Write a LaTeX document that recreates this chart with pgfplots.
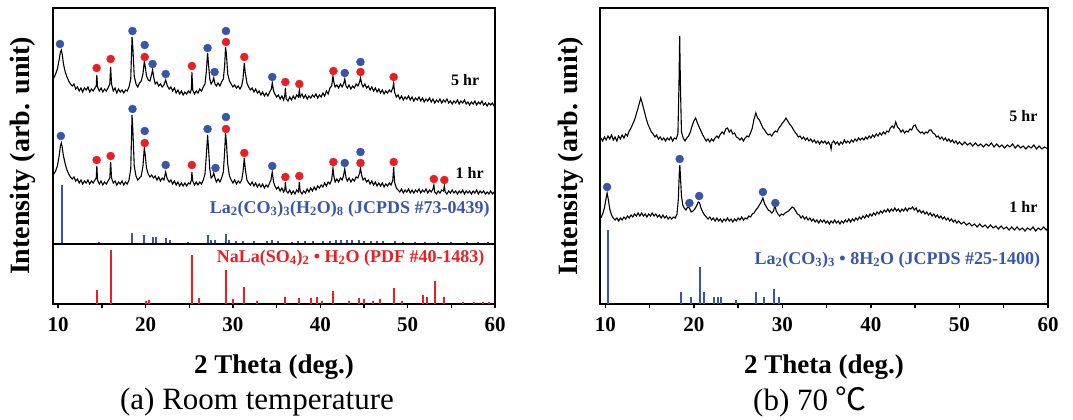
\documentclass[border=0pt]{standalone}
\usepackage{pgfplots}
\pgfplotsset{compat=1.18}
\usepackage{fontspec}
\setmainfont{Liberation Serif}
\newfontfamily\cjk{Noto Sans CJK KR}
\definecolor{refblue}{RGB}{55,85,170}
\definecolor{refred}{RGB}{235,30,35}

\pgfplotsset{
  xrd/.style={
    scale only axis, anchor=south west,
    xmin=9.4, xmax=60, ymin=0,
    axis line style={line width=2pt},
    ytick=\empty,
    tick align=outside, xtick pos=lower,
    xtick={10,20,...,60}, minor xtick={15,25,...,55},
    major tick length=4pt, minor tick length=4pt,
    every tick/.style={black, line width=1.5pt},
    /pgf/number format/assume math mode=true,
    xticklabel style={font=\fontsize{21}{24}\selectfont\bfseries, yshift=-6pt},
    label style={font=\fontsize{28}{32}\selectfont\bfseries},
  },
  curve/.style={black, line width=1.1pt},
  bdot/.style={only marks, mark=*, mark size=4pt, refblue},
  rdot/.style={only marks, mark=*, mark size=4pt, refred},
}

\begin{document}
\begin{tikzpicture}
\path[use as bounding box] (0,0) rectangle (1073pt,420pt);

% (a) upper part: patterns + La2(CO3)3(H2O)8 reference
\begin{axis}[xrd, at={(53pt,176pt)}, width=442pt, height=236pt, ymax=236,
  xtick=\empty, minor xtick=\empty,
  ylabel={Intensity (arb. unit)},
  ylabel style={at={(axis description cs:-0.068,0.373)}, anchor=center}]
\addplot[curve] coordinates {
(9.5,166) (9.7,170) (9.9,175) (10.1,184) (10.25,192) (10.35,194) (10.45,190) (10.6,180) (10.8,172) (11.0,167) (11.2,163) (11.4,160) (11.6,158) (11.8,160) (12.0,155) (12.2,157) (12.4,153) (12.6,156) (12.8,152) (13.0,156) (13.2,154) (13.4,157) (13.6,152) (13.8,155) (14.0,153) (14.2,156) (14.35,158) (14.42,169) (14.5,157) (14.7,153) (14.9,156) (15.1,152) (15.3,155) (15.5,153) (15.7,156) (15.9,160) (16.0,177) (16.1,160) (16.3,153) (16.5,156) (16.7,151) (16.9,155) (17.1,152) (17.3,154) (17.5,151) (17.7,154) (17.9,153) (18.1,157) (18.3,165) (18.45,207) (18.55,195) (18.7,168) (18.9,160) (19.1,157) (19.3,161) (19.5,163) (19.7,170) (19.85,182) (19.95,178) (20.1,168) (20.3,164) (20.5,163) (20.7,170) (20.8,174) (20.95,166) (21.1,160) (21.3,162) (21.5,158) (21.7,160) (21.9,157) (22.1,159) (22.3,164) (22.5,158) (22.7,155) (22.9,157) (23.1,153) (23.3,156) (23.5,151) (23.7,154) (23.9,150) (24.1,153) (24.3,149) (24.5,152) (24.7,150) (24.9,153) (25.1,151) (25.25,155) (25.3,172) (25.4,154) (25.6,150) (25.8,153) (26.0,151) (26.2,155) (26.4,153) (26.6,157) (26.8,160) (26.95,172) (27.1,191) (27.2,180) (27.35,165) (27.5,160) (27.7,163) (27.8,166) (27.95,160) (28.1,158) (28.3,161) (28.5,158) (28.7,162) (28.9,165) (29.05,178) (29.15,197) (29.25,190) (29.4,170) (29.6,163) (29.8,160) (30.0,157) (30.2,159) (30.4,156) (30.6,158) (30.8,155) (31.0,158) (31.15,165) (31.3,181) (31.4,172) (31.6,161) (31.8,157) (32.0,154) (32.2,156) (32.4,152) (32.6,155) (32.8,151) (33.0,153) (33.2,149) (33.4,152) (33.6,148) (33.8,151) (34.0,148) (34.2,152) (34.4,155) (34.5,161) (34.65,153) (34.8,150) (35.0,147) (35.2,149) (35.4,145) (35.6,148) (35.8,144) (35.95,149) (36.0,156) (36.1,145) (36.3,143) (36.5,147) (36.7,144) (36.9,148) (37.1,145) (37.3,149) (37.5,147) (37.6,154) (37.7,147) (37.9,150) (38.1,146) (38.3,149) (38.5,145) (38.7,148) (38.9,146) (39.1,149) (39.3,147) (39.5,150) (39.7,146) (39.9,149) (40.1,147) (40.3,151) (40.5,148) (40.7,153) (40.9,150) (41.1,156) (41.3,158) (41.45,168) (41.55,162) (41.7,157) (41.9,159) (42.1,156) (42.3,160) (42.5,157) (42.7,161) (42.8,165) (42.95,158) (43.1,156) (43.3,159) (43.5,155) (43.7,158) (43.9,156) (44.1,160) (44.3,158) (44.5,162) (44.6,166) (44.75,160) (44.9,157) (45.1,160) (45.3,156) (45.5,158) (45.7,154) (45.9,157) (46.1,153) (46.3,156) (46.5,152) (46.7,155) (46.9,151) (47.1,154) (47.3,150) (47.5,153) (47.7,151) (47.9,154) (48.1,152) (48.3,156) (48.4,161) (48.5,152) (48.7,147) (48.9,149) (49.1,145) (49.3,148) (49.5,144) (49.7,147) (49.9,145) (50.1,148) (50.3,144) (50.5,147) (50.7,143) (50.9,146) (51.1,144) (51.3,147) (51.5,143) (51.7,146) (51.9,142) (52.1,145) (52.3,143) (52.5,146) (52.7,142) (52.9,145) (53.1,141) (53.3,144) (53.5,142) (53.7,145) (53.9,141) (54.1,144) (54.3,142) (54.5,145) (54.7,141) (54.9,143) (55.1,140) (55.3,143) (55.5,141) (55.7,144) (55.9,140) (56.1,143) (56.3,141) (56.5,144) (56.7,140) (56.9,142) (57.1,139) (57.3,142) (57.5,140) (57.7,143) (57.9,139) (58.1,142) (58.3,140) (58.5,143) (58.7,139) (58.9,141) (59.1,138) (59.3,141) (59.5,139) (59.7,141) (59.9,138) (60.0,140)
};
\addplot[curve] coordinates {
(9.5,70) (9.7,73) (9.9,78) (10.1,88) (10.25,98) (10.35,101) (10.45,97) (10.6,88) (10.8,80) (11.0,74) (11.2,70) (11.4,67) (11.6,65) (11.8,67) (12.0,63) (12.2,65) (12.4,61) (12.6,64) (12.8,60) (13.0,63) (13.2,61) (13.4,64) (13.6,60) (13.8,63) (14.0,61) (14.2,64) (14.35,66) (14.42,78) (14.5,64) (14.7,60) (14.9,63) (15.1,59) (15.3,62) (15.5,60) (15.7,63) (15.9,66) (16.0,82) (16.1,66) (16.3,61) (16.5,63) (16.7,59) (16.9,62) (17.1,60) (17.3,63) (17.5,59) (17.7,62) (17.9,60) (18.1,64) (18.3,75) (18.45,129) (18.55,112) (18.7,78) (18.9,68) (19.1,64) (19.3,66) (19.5,68) (19.7,78) (19.85,96) (19.95,90) (20.1,76) (20.3,70) (20.5,67) (20.7,69) (20.9,66) (21.1,68) (21.3,64) (21.5,67) (21.7,63) (21.9,66) (22.1,64) (22.3,72) (22.45,66) (22.7,62) (22.9,64) (23.1,60) (23.3,63) (23.5,59) (23.7,62) (23.9,58) (24.1,61) (24.3,58) (24.5,61) (24.7,58) (24.9,61) (25.1,60) (25.25,64) (25.3,72) (25.4,63) (25.6,59) (25.8,62) (26.0,59) (26.2,62) (26.4,60) (26.6,64) (26.8,70) (26.95,88) (27.1,109) (27.2,96) (27.35,75) (27.5,66) (27.7,68) (27.8,71) (27.95,66) (28.1,62) (28.3,65) (28.5,62) (28.7,66) (28.9,72) (29.05,92) (29.15,111) (29.25,102) (29.4,80) (29.6,68) (29.8,64) (30.0,61) (30.2,64) (30.4,60) (30.6,63) (30.8,61) (31.0,64) (31.15,72) (31.3,86) (31.4,76) (31.6,64) (31.8,61) (32.0,59) (32.2,62) (32.4,58) (32.6,61) (32.8,57) (33.0,60) (33.2,57) (33.4,60) (33.6,56) (33.8,59) (34.0,57) (34.2,61) (34.35,64) (34.5,72) (34.65,62) (34.8,58) (35.0,55) (35.2,57) (35.4,53) (35.6,56) (35.8,52) (35.95,55) (36.0,62) (36.1,53) (36.3,51) (36.5,54) (36.7,50) (36.9,53) (37.1,50) (37.3,54) (37.5,52) (37.6,62) (37.7,53) (37.9,50) (38.1,53) (38.3,51) (38.5,55) (38.7,52) (38.9,56) (39.1,53) (39.3,57) (39.5,54) (39.7,58) (39.9,56) (40.1,59) (40.3,57) (40.5,61) (40.7,58) (40.9,62) (41.1,60) (41.3,64) (41.45,76) (41.55,68) (41.7,62) (41.9,65) (42.1,62) (42.3,66) (42.5,64) (42.65,68) (42.8,75) (42.95,66) (43.1,63) (43.3,66) (43.5,62) (43.7,65) (43.9,63) (44.1,67) (44.3,66) (44.5,71) (44.6,76) (44.75,68) (44.9,64) (45.1,66) (45.3,62) (45.5,64) (45.7,60) (45.9,63) (46.1,59) (46.3,62) (46.5,58) (46.7,61) (46.9,58) (47.1,61) (47.3,57) (47.5,60) (47.7,58) (47.9,61) (48.1,59) (48.3,64) (48.4,77) (48.5,62) (48.7,56) (48.9,54) (49.1,52) (49.3,55) (49.5,51) (49.7,54) (49.9,52) (50.1,55) (50.3,51) (50.5,54) (50.7,51) (50.9,54) (51.1,52) (51.3,55) (51.5,51) (51.7,54) (51.9,52) (52.1,55) (52.3,51) (52.5,54) (52.7,52) (52.9,55) (53.0,59) (53.1,52) (53.3,50) (53.5,53) (53.7,51) (53.9,54) (54.1,53) (54.2,58) (54.3,52) (54.5,50) (54.7,53) (54.9,51) (55.1,54) (55.3,51) (55.5,53) (55.7,50) (55.9,53) (56.1,51) (56.3,54) (56.5,50) (56.7,53) (56.9,51) (57.1,53) (57.3,50) (57.5,53) (57.7,51) (57.9,54) (58.1,50) (58.3,53) (58.5,51) (58.7,53) (58.9,50) (59.1,52) (59.3,50) (59.5,53) (59.7,50) (59.9,52) (60.0,51)
};
% reference lines JCPDS 73-0439
\addplot[ycomb, refblue, line width=2pt] coordinates {
(10.4,59) (14.7,2) (18.5,11) (19.8,9) (20.9,7) (21.2,7) (22.3,6) (22.8,4) (24.9,2) (27.1,9) (27.5,4) (27.9,4) (29.2,10) (29.6,4) (30.3,3) (31.2,3) (32.4,3) (33.9,3) (34.5,4) (35.2,3) (36.8,2) (37.5,3) (38.3,3) (39.2,3) (40.3,3) (41.1,3) (41.8,4) (42.4,4) (43.0,4) (43.6,4) (44.4,4) (45.0,3) (45.8,3) (46.5,3) (47.2,3) (48.5,3) (49.5,2) (50.8,2) (52.0,2) (53.5,2) (55.0,2) (56.8,2) (58.0,2) (59.2,2)
};
% phase markers, 5 hr
\addplot[bdot] coordinates {(10.2,200) (18.5,213) (19.9,199) (20.8,180) (22.3,170) (27.1,196) (27.9,172) (29.2,213) (34.5,167) (42.8,171) (44.6,182)};
\addplot[rdot] coordinates {(14.4,176) (16.0,185) (19.9,187) (25.3,178) (29.2,202) (31.3,187) (36.0,162) (37.6,160) (41.5,173) (44.6,172) (48.4,167)};
% phase markers, 1 hr
\addplot[bdot] coordinates {(10.3,108) (18.5,135) (19.9,113) (22.3,79) (27.1,115) (28.0,76) (29.2,127) (34.5,78) (42.8,81) (44.6,92)};
\addplot[rdot] coordinates {(14.4,84) (16.0,88) (19.9,101) (25.3,79) (29.2,115) (31.3,91) (36.0,67) (37.6,68) (41.5,82) (44.6,81) (48.4,82) (53.0,65) (54.2,64)};
\node[anchor=east, font=\fontsize{16}{18}\selectfont\bfseries] at (axis cs:58.6,164) {5 hr};
\node[anchor=east, font=\fontsize{16}{18}\selectfont\bfseries] at (axis cs:59.1,71) {1 hr};
\node[anchor=east, text=refblue, font=\fontsize{18}{20}\selectfont\bfseries] at (axis cs:59.8,35)
  {La\textsubscript{2}(CO\textsubscript{3})\textsubscript{3}(H\textsubscript{2}O)\textsubscript{8} (JCPDS \#73-0439)};
\end{axis}

% (a) lower part: NaLa(SO4)2 H2O reference
\begin{axis}[xrd, at={(53pt,116pt)}, width=442pt, height=60pt, ymax=60,
  xlabel={2 Theta (deg.)},
  xlabel style={at={(axis description cs:0.5,-1.05)}, anchor=center, font=\fontsize{27}{30}\selectfont\bfseries}]
\addplot[ycomb, refred, line width=2pt] coordinates {
(14.4,14) (16.0,54) (20.0,3) (20.4,4) (25.3,49) (26.1,6) (29.2,34) (30.0,5) (31.3,17) (32.7,3) (36.0,7) (37.6,6) (38.9,6) (39.6,7) (40.2,3) (41.5,13) (43.3,3) (44.4,6) (45.0,5) (46.0,3) (46.8,5) (48.4,16) (49.4,3) (51.8,9) (52.2,7) (53.1,23) (54.2,7) (56.3,2) (57.6,2) (58.6,2) (59.3,2)
};
\node[anchor=east, text=refred, font=\fontsize{18}{20}\selectfont\bfseries] at (axis cs:59.2,46)
  {NaLa(SO\textsubscript{4})\textsubscript{2} \textbullet{} H\textsubscript{2}O (PDF \#40-1483)};
\end{axis}

% (b) 70 C
\begin{axis}[xrd, at={(600pt,116pt)}, width=448pt, height=296pt, ymax=296,
  xlabel={2 Theta (deg.)},
  xlabel style={at={(axis description cs:0.5,-0.213)}, anchor=center, font=\fontsize{27}{30}\selectfont\bfseries},
  ylabel={Intensity (arb. unit)},
  ylabel style={at={(axis description cs:-0.066,0.5)}, anchor=center}]
\addplot[curve] coordinates {
(9.5,166) (9.7,163) (9.9,167) (10.1,164) (10.3,168) (10.5,165) (10.7,169) (10.9,164) (11.1,167) (11.3,163) (11.5,168) (11.7,165) (11.9,169) (12.1,166) (12.3,170) (12.5,168) (12.7,173) (12.9,176) (13.1,180) (13.3,184) (13.5,190) (13.7,196) (13.85,201) (14.0,206) (14.1,203) (14.25,198) (14.4,193) (14.6,186) (14.8,180) (15.0,176) (15.2,172) (15.4,170) (15.6,167) (15.8,169) (16.0,165) (16.2,167) (16.4,164) (16.6,166) (16.8,163) (17.0,166) (17.2,164) (17.4,167) (17.6,163) (17.8,166) (18.0,165) (18.2,170) (18.32,220) (18.4,268) (18.48,220) (18.6,172) (18.8,166) (19.0,163) (19.2,166) (19.4,168) (19.6,172) (19.8,178) (20.0,183) (20.2,186) (20.4,181) (20.6,177) (20.8,173) (21.0,169) (21.2,166) (21.4,163) (21.6,165) (21.8,162) (22.0,165) (22.2,163) (22.4,166) (22.6,168) (22.8,166) (23.0,170) (23.2,172) (23.4,170) (23.6,175) (23.8,176) (24.0,172) (24.2,174) (24.4,170) (24.6,171) (24.8,167) (25.0,166) (25.2,164) (25.4,166) (25.6,163) (25.8,166) (26.0,168) (26.2,167) (26.4,171) (26.6,176) (26.8,185) (27.0,191) (27.2,186) (27.4,184) (27.6,180) (27.8,176) (28.0,174) (28.2,171) (28.4,169) (28.6,170) (28.8,168) (29.0,171) (29.2,173) (29.4,172) (29.6,176) (29.8,178) (30.0,181) (30.2,183) (30.4,186) (30.6,183) (30.8,180) (31.0,178) (31.2,175) (31.4,172) (31.6,170) (31.8,167) (32.0,168) (32.2,165) (32.4,167) (32.6,164) (32.8,166) (33.0,163) (33.2,165) (33.4,162) (33.6,164) (33.8,161) (34.0,163) (34.2,160) (34.4,163) (34.6,161) (34.8,163) (35.0,160) (35.2,162) (35.4,159) (35.5,155) (35.6,161) (35.8,163) (36.0,160) (36.2,162) (36.4,159) (36.6,162) (36.8,160) (37.0,164) (37.2,161) (37.4,163) (37.6,161) (37.8,164) (38.0,162) (38.2,165) (38.4,163) (38.6,166) (38.8,164) (39.0,166) (39.2,164) (39.4,167) (39.6,165) (39.8,168) (40.0,166) (40.2,169) (40.4,167) (40.6,170) (40.8,168) (41.0,171) (41.2,169) (41.4,172) (41.6,170) (41.8,173) (42.0,172) (42.2,176) (42.4,178) (42.6,176) (42.8,182) (43.0,177) (43.2,175) (43.4,172) (43.6,174) (43.8,171) (44.0,173) (44.2,172) (44.4,175) (44.6,174) (44.8,178) (45.0,179) (45.2,175) (45.4,173) (45.6,171) (45.8,172) (46.0,170) (46.2,172) (46.4,171) (46.6,174) (46.8,174) (47.0,171) (47.2,170) (47.4,167) (47.6,168) (47.8,165) (48.0,167) (48.2,164) (48.4,166) (48.6,163) (48.8,165) (49.0,162) (49.2,164) (49.4,161) (49.6,163) (49.8,160) (50.0,162) (50.3,159) (50.6,162) (50.9,159) (51.2,161) (51.5,158) (51.8,161) (52.1,158) (52.4,160) (52.7,157) (53.0,160) (53.3,158) (53.6,161) (53.9,157) (54.2,160) (54.5,157) (54.8,159) (55.1,156) (55.4,159) (55.7,157) (56.0,160) (56.3,156) (56.6,159) (56.9,156) (57.2,158) (57.5,155) (57.8,158) (58.1,156) (58.4,159) (58.7,155) (59.0,158) (59.3,155) (59.6,157) (60.0,155)
};
\addplot[curve] coordinates {
(9.5,86) (9.7,90) (9.9,96) (10.05,104) (10.2,111) (10.35,104) (10.5,95) (10.7,89) (10.9,86) (11.1,84) (11.3,86) (11.5,83) (11.7,86) (11.9,84) (12.1,87) (12.3,85) (12.5,88) (12.7,86) (12.9,89) (13.1,87) (13.3,90) (13.5,88) (13.7,91) (13.9,88) (14.1,91) (14.3,88) (14.5,90) (14.7,87) (14.9,90) (15.1,88) (15.3,91) (15.5,88) (15.7,90) (15.9,87) (16.1,89) (16.3,86) (16.5,89) (16.7,86) (16.9,88) (17.1,85) (17.3,87) (17.5,85) (17.7,87) (17.9,86) (18.1,90) (18.25,105) (18.35,130) (18.42,139) (18.5,125) (18.6,108) (18.75,99) (18.9,96) (19.1,94) (19.3,97) (19.5,96) (19.7,92) (19.9,93) (20.1,95) (20.3,98) (20.5,102) (20.65,101) (20.8,96) (21.0,92) (21.2,89) (21.4,87) (21.6,85) (21.8,87) (22.0,84) (22.2,86) (22.4,83) (22.6,86) (22.8,83) (23.0,85) (23.2,82) (23.4,85) (23.6,83) (23.8,86) (24.0,83) (24.2,85) (24.4,82) (24.6,85) (24.8,83) (25.0,86) (25.2,84) (25.4,87) (25.6,84) (25.8,86) (26.0,85) (26.2,88) (26.4,87) (26.6,90) (26.8,91) (27.0,94) (27.2,96) (27.4,99) (27.6,102) (27.8,106) (28.0,100) (28.2,97) (28.4,94) (28.6,93) (28.8,91) (29.0,93) (29.15,99) (29.3,93) (29.5,90) (29.7,88) (29.9,90) (30.1,89) (30.3,91) (30.5,92) (30.7,93) (30.9,95) (31.1,97) (31.3,96) (31.5,93) (31.7,90) (31.9,89) (32.1,86) (32.3,88) (32.5,85) (32.7,87) (32.9,84) (33.1,86) (33.3,83) (33.5,85) (33.7,82) (33.9,84) (34.1,81) (34.3,84) (34.5,82) (34.7,84) (34.9,81) (35.1,83) (35.3,80) (35.5,83) (35.7,81) (35.9,84) (36.1,81) (36.3,83) (36.5,80) (36.7,83) (36.9,81) (37.1,84) (37.3,82) (37.5,85) (37.7,82) (37.9,85) (38.1,83) (38.3,86) (38.5,84) (38.7,87) (38.9,85) (39.1,88) (39.3,86) (39.5,89) (39.7,87) (39.9,90) (40.1,88) (40.3,91) (40.5,89) (40.7,92) (40.9,90) (41.1,93) (41.3,91) (41.5,94) (41.7,92) (41.9,95) (42.1,92) (42.3,95) (42.5,93) (42.7,96) (42.9,93) (43.1,95) (43.3,92) (43.5,95) (43.7,93) (43.9,96) (44.1,93) (44.3,96) (44.5,95) (44.7,97) (44.9,94) (45.1,96) (45.3,92) (45.5,94) (45.7,91) (45.9,93) (46.1,90) (46.3,92) (46.5,89) (46.7,91) (46.9,88) (47.1,90) (47.3,87) (47.5,89) (47.7,86) (47.9,88) (48.1,85) (48.3,87) (48.5,84) (48.7,86) (48.9,83) (49.1,85) (49.3,82) (49.5,84) (49.7,81) (49.9,83) (50.2,80) (50.5,82) (50.8,79) (51.1,81) (51.4,78) (51.7,80) (52.0,77) (52.3,80) (52.6,77) (52.9,79) (53.2,76) (53.5,79) (53.8,76) (54.1,78) (54.4,75) (54.7,78) (55.0,75) (55.3,77) (55.6,74) (55.9,77) (56.2,74) (56.5,77) (56.8,74) (57.1,76) (57.4,73) (57.7,76) (58.0,74) (58.3,77) (58.6,73) (58.9,76) (59.2,74) (59.5,77) (59.8,74) (60.0,76)
};
% reference lines JCPDS 25-1400
\addplot[ycomb, refblue, line width=2pt] coordinates {
(10.25,74) (18.5,12) (19.7,7) (20.7,37) (21.2,12) (22.3,7) (22.7,7) (23.1,7) (24.8,4) (27.0,12) (27.9,7) (29.0,15) (29.6,7)
};
\addplot[bdot] coordinates {(10.2,117) (18.4,145) (19.5,101) (20.6,108) (27.8,112) (29.2,101)};
\node[anchor=east, font=\fontsize{16}{18}\selectfont\bfseries] at (axis cs:59.2,188) {5 hr};
\node[anchor=east, font=\fontsize{16}{18}\selectfont\bfseries] at (axis cs:59.2,97) {1 hr};
\node[anchor=east, text=refblue, font=\fontsize{18}{20}\selectfont\bfseries] at (axis cs:59.5,44)
  {La\textsubscript{2}(CO\textsubscript{3})\textsubscript{3} \textbullet{} 8H\textsubscript{2}O (JCPDS \#25-1400)};
\end{axis}

\node[font=\fontsize{31}{34}\selectfont] at (257pt,18pt) {(a) Room temperature};
\node[font=\fontsize{31}{34}\selectfont] at (810pt,18pt) {(b) 70 {\cjk ℃}};
\end{tikzpicture}
\end{document}
